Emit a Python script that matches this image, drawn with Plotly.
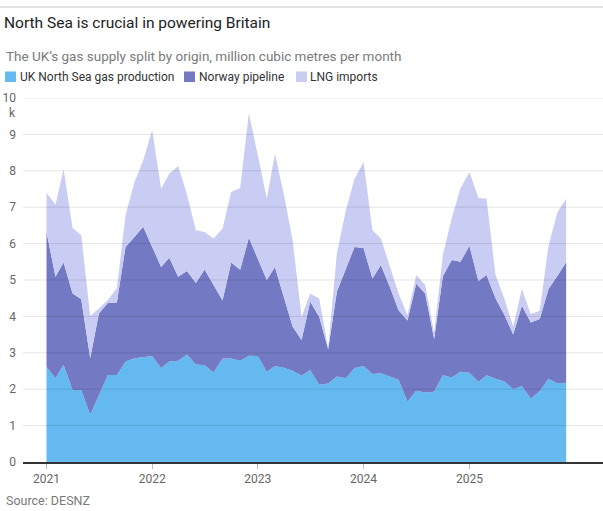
import pandas as pd
import plotly.graph_objects as go

# monthly gas supply, million cubic metres
months = pd.date_range("2021-01-01", periods=60, freq="MS")

uk = [2620, 2300, 2670, 1980, 1980, 1300, 1840, 2390, 2390, 2760, 2850, 2880,
      2910, 2580, 2760, 2780, 2950, 2680, 2660, 2460, 2840, 2840, 2780, 2920,
      2910, 2480, 2640, 2590, 2510, 2370, 2530, 2120, 2160, 2350, 2300, 2580,
      2640, 2420, 2440, 2350, 2260, 1660, 1960, 1910, 1930, 2380, 2320, 2480,
      2450, 2200, 2380, 2290, 2220, 2000, 2090, 1740, 1950, 2290, 2160, 2180]

norway = [3700, 2790, 2810, 2650, 2490, 1550, 2240, 1980, 1990, 3150, 3330, 3580,
          3000, 2780, 2850, 2310, 2300, 2240, 2630, 2420, 1600, 2640, 2500, 3240,
          2680, 2520, 2720, 1950, 1210, 980, 1870, 1870, 940, 2330, 3020, 3330,
          3240, 2620, 2970, 2460, 1910, 2230, 2940, 2720, 1450, 2720, 3230, 3020,
          3490, 2770, 2760, 2210, 1830, 1500, 2200, 2090, 1980, 2460, 2960, 3310]

lng = [1080, 1980, 2560, 1800, 1760, 1160, 140, 80, 390, 870, 1510, 1820,
       3210, 2150, 2310, 3040, 2100, 1450, 1030, 1260, 1970, 1940, 2250, 3420,
       2830, 2230, 3110, 2810, 2380, 640, 230, 500, 20, 1050, 1590, 1870,
       2360, 1330, 730, 550, 460, 140, 240, 230, 170, 590, 1150, 2020,
       2020, 2280, 2090, 640, 450, 220, 460, 230, 230, 1190, 1740, 1740]

series_names = ["UK North Sea gas production", "Norway pipeline", "LNG imports"]
colors = ["#63b9f0", "#7379c2", "#c9ccf3"]

y_ticks = list(range(0, 11000, 1000))
y_labels = [str(v // 1000) for v in y_ticks]
year_ticks = ["2021-01-01", "2022-01-01", "2023-01-01", "2024-01-01", "2025-01-01"]
year_labels = ["2021", "2022", "2023", "2024", "2025"]

W, H = 603, 511
M = dict(l=23, r=0, t=98, b=49)
FONT = "Roboto, sans-serif"


def px_x(px):
    return (px - M["l"]) / (W - M["l"] - M["r"])


def px_y(px):
    return (H - M["b"] - px) / (H - M["t"] - M["b"])


fig = go.Figure()
for name, vals, col in zip(series_names, [uk, norway, lng], colors):
    fig.add_trace(go.Scatter(
        x=months, y=vals, name=name, mode="lines", stackgroup="one",
        line=dict(width=0, color=col), fillcolor=col, showlegend=False,
    ))

# gridlines drawn over the areas, as in the original
shapes = [dict(type="line", xref="paper", yref="y", x0=0, x1=1, y0=v, y1=v,
               line=dict(color="rgba(0,0,0,0.1)", width=1), layer="above")
          for v in y_ticks[1:]]
# thin rule at the very top
shapes.append(dict(type="line", xref="paper", yref="paper", x0=px_x(0), x1=1,
                   y0=px_y(7), y1=px_y(7), line=dict(color="#c8c8c8", width=1)))

annotations = [
    dict(text="The UK\u2019s gas supply split by origin, million cubic metres per month",
         xref="paper", yref="paper", x=px_x(4), y=px_y(56), xanchor="left", yanchor="middle",
         showarrow=False, font=dict(size=13.5, color="#7a7a7a", family=FONT)),
    dict(text="k", xref="paper", yref="y", x=0, y=9600, xanchor="right", yanchor="middle",
         xshift=-5, showarrow=False, font=dict(size=12, color="#666", family=FONT)),
    dict(text="Source: DESNZ", xref="paper", yref="paper", x=px_x(4), y=px_y(500),
         xanchor="left", yanchor="middle", showarrow=False,
         font=dict(size=12.5, color="#7a7a7a", family=FONT)),
]

# legend row: swatch + label
legend_pos = [(5, 18), (184, 197), (296, 308)]
for (sx, tx), name, col in zip(legend_pos, series_names, colors):
    shapes.append(dict(type="rect", xref="paper", yref="paper",
                       x0=px_x(sx), x1=px_x(sx + 11), y0=px_y(82), y1=px_y(71.5),
                       fillcolor=col, line=dict(width=0)))
    annotations.append(dict(text=name, xref="paper", yref="paper", x=px_x(tx), y=px_y(77),
                            xanchor="left", yanchor="middle", showarrow=False,
                            font=dict(size=12, color="#333", family=FONT)))

px_per_day = 0.2895
x_start = months[0] - pd.Timedelta(days=(46.5 - M["l"]) / px_per_day)
x_end = months[0] + pd.Timedelta(days=(W - M["r"] - 46.5) / px_per_day)

fig.update_layout(
    width=W, height=H, margin=M,
    paper_bgcolor="white", plot_bgcolor="white",
    font=dict(family=FONT, color="#555"),
    title=dict(text="North Sea is crucial in powering Britain", xref="container", yref="container",
               x=4 / W, y=1 - 23 / H, xanchor="left", yanchor="middle",
               font=dict(size=15.5, color="#222", family=FONT)),
    shapes=shapes, annotations=annotations,
    hovermode=False,
    xaxis=dict(type="date", range=[x_start, x_end], tickvals=year_ticks, ticktext=year_labels,
               showgrid=False, showline=True, linecolor="#333", linewidth=1.5,
               ticks="outside", ticklen=5, tickcolor="#bbb", tickwidth=1,
               tickfont=dict(size=12, color="#666"), zeroline=False),
    yaxis=dict(range=[0, 10000], tickvals=y_ticks, ticktext=y_labels, showgrid=False,
               zeroline=False, ticks="", ticklabelstandoff=6,
               tickfont=dict(size=12, color="#666")),
)

# the page's default body margin would offset the fixed-size figure
fig.write_html("out.html", config={"displayModeBar": False},
               post_script="document.body.style.margin='0';")
